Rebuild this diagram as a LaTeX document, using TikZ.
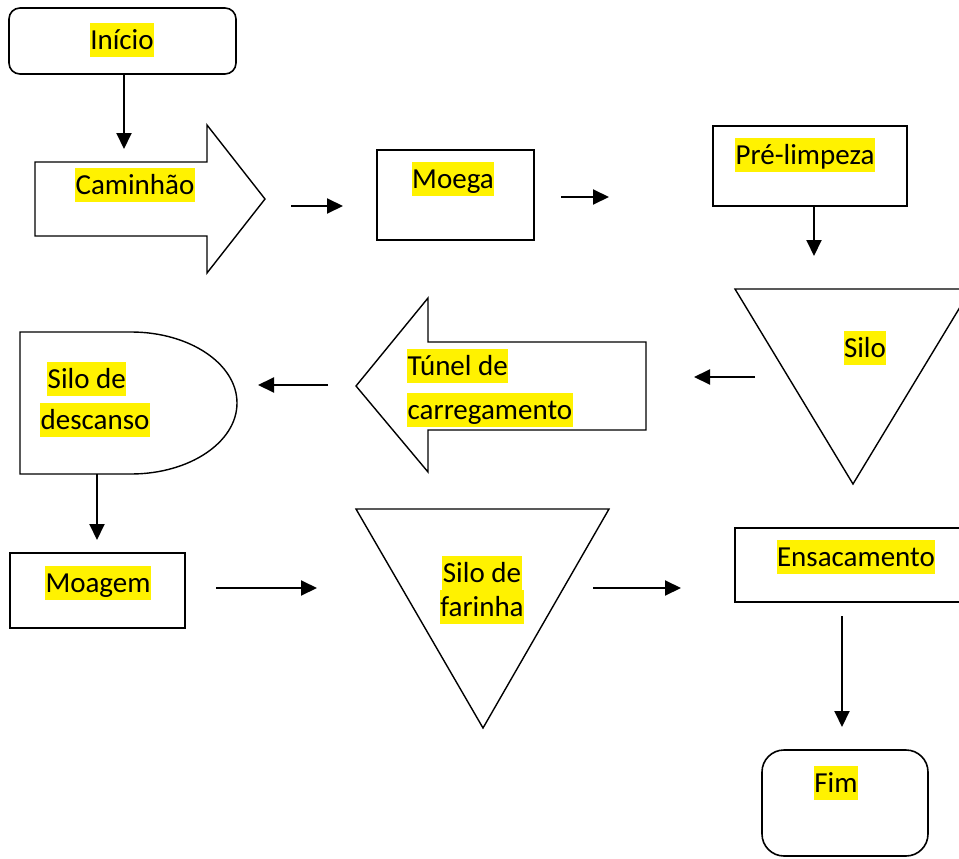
\documentclass[tikz,border=0pt]{standalone}
\usepackage{fontspec}
\setmainfont{Carlito}
\usetikzlibrary{arrows.meta}
\begin{document}
\begin{tikzpicture}[x=1pt,y=-1pt,
  shp/.style={draw=black, line width=1.6pt, fill=white, line join=miter},
  tri/.style={draw=black, line width=1.4pt, fill=white},
  hl/.style={fill=yellow, inner xsep=0.5pt, inner ysep=0pt, text height=26.5pt, text depth=8pt, font=\fontsize{29}{35}\selectfont},
  conn/.style={line width=2pt, -{Triangle[length=16pt,width=15pt]}}]
\useasboundingbox (0,0) rectangle (959,859);
\clip (0,0) rectangle (959,859);
% shapes
\draw[shp, rounded corners=11pt] (9,8) rectangle (236,74);
\draw[tri] (35,162) -- (207,162) -- (207,125) -- (265,199) -- (207,273) -- (207,236) -- (35,236) -- cycle;
\draw[shp] (377,150) rectangle (534,240);
\draw[shp] (713,126) rectangle (907,206);
\draw[tri] (735,289) -- (971,289) -- (853,484) -- cycle;
\draw[tri] (646,342) -- (428,342) -- (428,298) -- (356,386) -- (428,472) -- (428,430) -- (646,430) -- cycle;
\draw[tri] (20,332) -- (131,332) arc[start angle=90, end angle=-90, x radius=106pt, y radius=71pt] -- (20,474) -- cycle;
\draw[shp] (10,553) rectangle (185,628);
\draw[tri] (356,509) -- (609,509) -- (483,728) -- cycle;
\draw[shp] (735,528) rectangle (975,602);
\draw[shp, rounded corners=22pt] (762,750) rectangle (928,856);
% texts
\node[hl] (tinicio) at (122,40) {Início};
\node[hl] (tcaminhao) at (135,185) {Caminhão};
\node[hl] (tmoega) at (453,179) {Moega};
\node[hl] (tprelimpeza) at (805,155) {Pré-limpeza};
\node[hl] (tsilo) at (865,348) {Silo};
\node[hl, anchor=west] (ttunel) at (407,366) {Túnel de};
\node[hl, anchor=west] (tcarreg) at (407,410) {carregamento};
\node[hl, anchor=west] (tsilode) at (47,379) {Silo de};
\node[hl, anchor=west] (tdescanso) at (40,420) {descanso};
\node[hl] (tmoagem) at (98,583) {Moagem};
\node[hl] (tsilode2) at (482,573) {Silo de};
\node[hl] (tfarinha) at (482,607) {farinha};
\node[hl] (tensac) at (856,557) {Ensacamento};
\node[hl] (tfim) at (836,783) {Fim};
% connector endpoints
\coordinate (a1s) at (124,74);  \coordinate (a1e) at (124,149);
\coordinate (a2s) at (291,206); \coordinate (a2e) at (343,206);
\coordinate (a3s) at (561,197); \coordinate (a3e) at (609,197);
\coordinate (a4s) at (814,206); \coordinate (a4e) at (814,256);
\coordinate (a5s) at (755,377); \coordinate (a5e) at (694,377);
\coordinate (a6s) at (328,385); \coordinate (a6e) at (258,385);
\coordinate (a7s) at (97,474);  \coordinate (a7e) at (97,540);
\coordinate (a8s) at (216,588); \coordinate (a8e) at (317,588);
\coordinate (a9s) at (593,588); \coordinate (a9e) at (681,588);
\coordinate (a10s) at (842,616); \coordinate (a10e) at (842,727);
\foreach \i in {1,...,10} \draw[conn] (a\i s) -- (a\i e);
\end{tikzpicture}
\end{document}
